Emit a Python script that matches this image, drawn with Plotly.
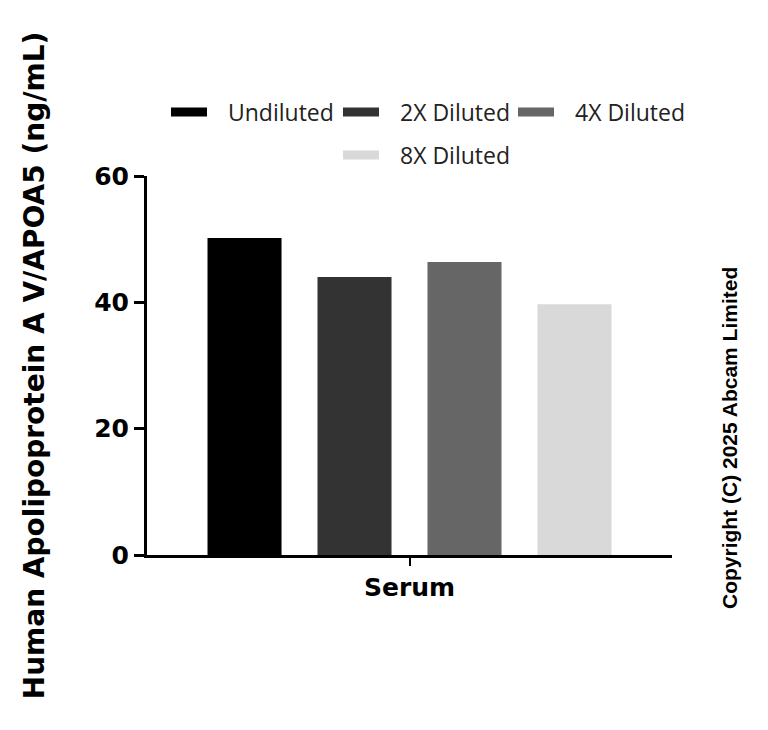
import plotly.graph_objects as go

categories = ["Serum"]
series_names = ["Undiluted", "2X Diluted", "4X Diluted", "8X Diluted"]
series_values = [50.2, 44.0, 46.4, 39.7]
colours = ["#000000", "#333333", "#666666", "#d9d9d9"]
y_ticks = [0, 20, 40, 60]

L, T, W, H = 148, 176, 525, 379  # plot area in pixels

fig = go.Figure()
for name, val, col in zip(series_names, series_values, colours):
    fig.add_trace(go.Bar(x=categories, y=[val], name=name, marker_color=col,
                         marker_line_width=0, showlegend=False))

# manual legend with wide swatches, like the original
legend_pos = [(172, 112), (344, 112), (519, 112), (344, 155)]
for (px_, py_), name, col in zip(legend_pos, series_names, colours):
    fig.add_shape(type="rect", xref="paper", yref="paper",
                  x0=(px_ - L) / W, x1=(px_ + 36 - L) / W,
                  y0=(T + H - py_ - 4.5) / H, y1=(T + H - py_ + 4.5) / H,
                  fillcolor=col, line_width=0)
    fig.add_annotation(text=name, xref="paper", yref="paper",
                       x=(px_ + 55 - L) / W, y=(T + H - py_) / H,
                       xanchor="left", yanchor="middle", showarrow=False,
                       font=dict(size=23, family="Open Sans", color="#222222"))

fig.add_annotation(text="<b>Copyright (C) 2025 Abcam Limited</b>", xref="paper", yref="paper",
                   x=(730 - L) / W, y=(T + H - 438) / H, textangle=-90,
                   xanchor="center", yanchor="middle",
                   showarrow=False, font=dict(family="Liberation Sans", size=21, color="black"))

fig.update_layout(
    width=768, height=730,
    margin=dict(l=139, r=104, t=168, b=183),
    plot_bgcolor="white", paper_bgcolor="white",
    font=dict(family="Lato", color="black"),
    barmode="group", bargap=0.162, bargroupgap=0.327,
)
fig.update_xaxes(showline=True, linecolor="black", linewidth=3,
                 ticks="outside", ticklen=8, tickwidth=2, tickcolor="black",
                 tickvals=categories, ticktext=["<b>Serum</b>"],
                 tickfont=dict(size=25, family="DejaVu Sans"))
fig.update_yaxes(range=[0, 60], tickvals=y_ticks, showline=True, linecolor="black",
                 linewidth=3, ticks="outside", ticklen=10, tickwidth=3, tickcolor="black",
                 showgrid=False, zeroline=False,
                 tickfont=dict(size=25, family="DejaVu Sans", weight="bold"),
                 title=dict(text="<b>Human Apolipoprotein A V/APOA5 (ng/mL)</b>",
                            font=dict(size=28, family="DejaVu Sans"), standoff=42))

fig.write_html("out.html")
